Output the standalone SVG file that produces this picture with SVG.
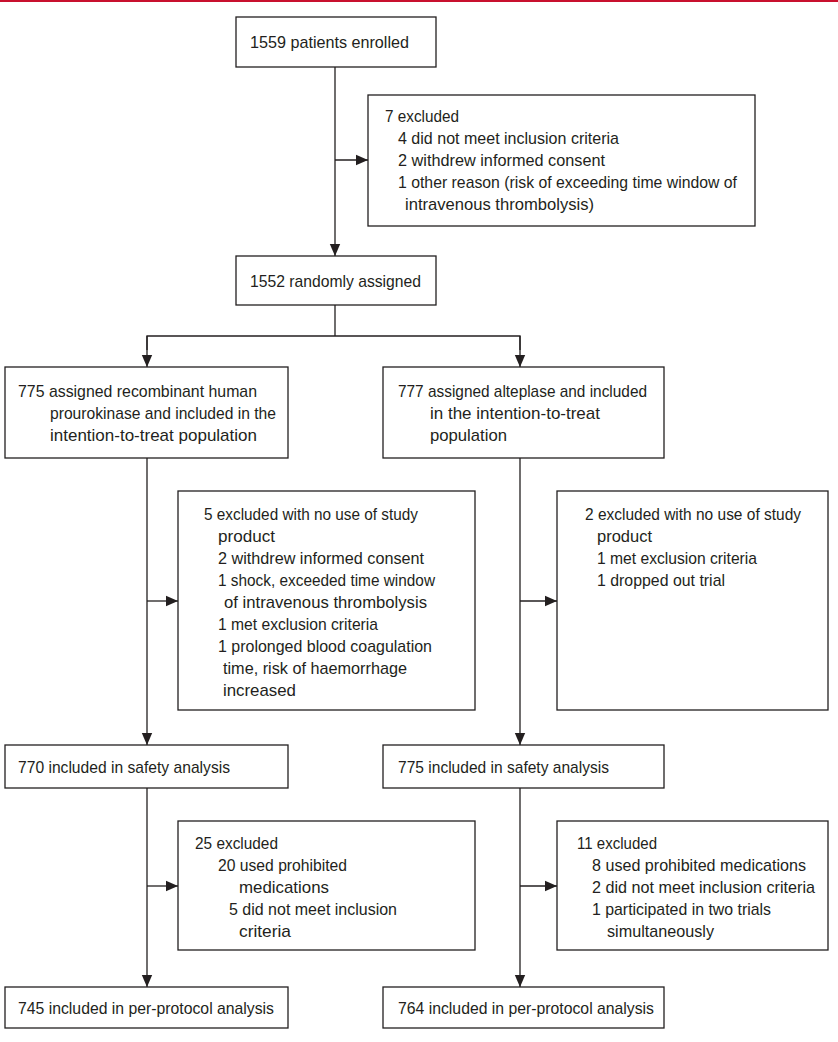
<svg xmlns="http://www.w3.org/2000/svg" width="838" height="1042" viewBox="0 0 838 1042">
<style>
.box{fill:#fff;stroke:#231f20;stroke-width:1.3}
.t{font-family:"Liberation Sans","DejaVu Sans",sans-serif;font-size:16.2px;fill:#231f20}
.c{fill:none;stroke:#231f20;stroke-width:1.3}
</style>
<defs>
<marker id="ah" viewBox="0 0 12 12" refX="12" refY="6" markerWidth="12" markerHeight="12" markerUnits="userSpaceOnUse" orient="auto">
<path d="M0,0.8 L12,6 L0,11.2 Z" fill="#231f20"/>
</marker>
</defs>
<rect x="0" y="0" width="838" height="2" fill="#c8102e"/>
<g id="connectors">
<line class="c" x1="335" y1="67" x2="335" y2="256" marker-end="url(#ah)"/>
<line class="c" x1="335" y1="160" x2="368" y2="160" marker-end="url(#ah)"/>
<polyline class="c" points="335,305 335,336"/>
<polyline class="c" points="147,350 147,336 520,336 520,350"/>
<line class="c" x1="147" y1="336" x2="147" y2="367" marker-end="url(#ah)"/>
<line class="c" x1="520" y1="336" x2="520" y2="367" marker-end="url(#ah)"/>
<line class="c" x1="147" y1="458" x2="147" y2="745" marker-end="url(#ah)"/>
<line class="c" x1="147" y1="601" x2="178" y2="601" marker-end="url(#ah)"/>
<line class="c" x1="520" y1="458" x2="520" y2="745" marker-end="url(#ah)"/>
<line class="c" x1="520" y1="601" x2="557" y2="601" marker-end="url(#ah)"/>
<line class="c" x1="147" y1="788" x2="147" y2="987" marker-end="url(#ah)"/>
<line class="c" x1="147" y1="886" x2="178" y2="886" marker-end="url(#ah)"/>
<line class="c" x1="520" y1="788" x2="520" y2="987" marker-end="url(#ah)"/>
<line class="c" x1="520" y1="886" x2="557" y2="886" marker-end="url(#ah)"/>
</g>
<g id="enrolled">
<rect class="box" x="236" y="17" width="200" height="50"/>
<text class="t" x="250" y="48" textLength="159" lengthAdjust="spacingAndGlyphs">1559 patients enrolled</text>
</g>
<g id="excluded7">
<rect class="box" x="368" y="95" width="387" height="131"/>
<text class="t" x="385" y="122" textLength="74" lengthAdjust="spacingAndGlyphs">7 excluded</text>
<text class="t" x="398" y="144" textLength="221" lengthAdjust="spacingAndGlyphs">4 did not meet inclusion criteria</text>
<text class="t" x="398" y="166" textLength="207" lengthAdjust="spacingAndGlyphs">2 withdrew informed consent</text>
<text class="t" x="398" y="188" textLength="339" lengthAdjust="spacingAndGlyphs">1 other reason (risk of exceeding time window of</text>
<text class="t" x="405" y="210" textLength="189" lengthAdjust="spacingAndGlyphs">intravenous thrombolysis)</text>
</g>
<g id="randomised">
<rect class="box" x="236" y="256" width="200" height="49"/>
<text class="t" x="250" y="287" textLength="171" lengthAdjust="spacingAndGlyphs">1552 randomly assigned</text>
</g>
<g id="prouk">
<rect class="box" x="5" y="367" width="283" height="91"/>
<text class="t" x="18" y="397" textLength="239" lengthAdjust="spacingAndGlyphs">775 assigned recombinant human</text>
<text class="t" x="50" y="419" textLength="226" lengthAdjust="spacingAndGlyphs">prourokinase and included in the</text>
<text class="t" x="50" y="441" textLength="207" lengthAdjust="spacingAndGlyphs">intention-to-treat population</text>
</g>
<g id="alteplase">
<rect class="box" x="383" y="367" width="281" height="91"/>
<text class="t" x="398" y="397" textLength="249" lengthAdjust="spacingAndGlyphs">777 assigned alteplase and included</text>
<text class="t" x="430" y="419" textLength="170" lengthAdjust="spacingAndGlyphs">in the intention-to-treat</text>
<text class="t" x="430" y="441" textLength="77" lengthAdjust="spacingAndGlyphs">population</text>
</g>
<g id="excluded5">
<rect class="box" x="178" y="491" width="297" height="219"/>
<text class="t" x="204" y="520" textLength="214" lengthAdjust="spacingAndGlyphs">5 excluded with no use of study</text>
<text class="t" x="218" y="542" textLength="57" lengthAdjust="spacingAndGlyphs">product</text>
<text class="t" x="218" y="564" textLength="206" lengthAdjust="spacingAndGlyphs">2 withdrew informed consent</text>
<text class="t" x="218" y="586" textLength="217" lengthAdjust="spacingAndGlyphs">1 shock, exceeded time window</text>
<text class="t" x="224" y="608" textLength="203" lengthAdjust="spacingAndGlyphs">of intravenous thrombolysis</text>
<text class="t" x="218" y="630" textLength="160" lengthAdjust="spacingAndGlyphs">1 met exclusion criteria</text>
<text class="t" x="218" y="652" textLength="214" lengthAdjust="spacingAndGlyphs">1 prolonged blood coagulation</text>
<text class="t" x="223" y="674" textLength="184" lengthAdjust="spacingAndGlyphs">time, risk of haemorrhage</text>
<text class="t" x="223" y="696" textLength="73" lengthAdjust="spacingAndGlyphs">increased</text>
</g>
<g id="excluded2">
<rect class="box" x="557" y="491" width="271" height="219"/>
<text class="t" x="585" y="520" textLength="216" lengthAdjust="spacingAndGlyphs">2 excluded with no use of study</text>
<text class="t" x="597" y="542" textLength="55" lengthAdjust="spacingAndGlyphs">product</text>
<text class="t" x="597" y="564" textLength="160" lengthAdjust="spacingAndGlyphs">1 met exclusion criteria</text>
<text class="t" x="597" y="586" textLength="128" lengthAdjust="spacingAndGlyphs">1 dropped out trial</text>
</g>
<g id="safety770">
<rect class="box" x="5" y="745" width="283" height="43"/>
<text class="t" x="18" y="773" textLength="212" lengthAdjust="spacingAndGlyphs">770 included in safety analysis</text>
</g>
<g id="safety775">
<rect class="box" x="383" y="745" width="281" height="43"/>
<text class="t" x="398" y="773" textLength="211" lengthAdjust="spacingAndGlyphs">775 included in safety analysis</text>
</g>
<g id="excluded25">
<rect class="box" x="178" y="821" width="297" height="129"/>
<text class="t" x="195" y="849" textLength="83" lengthAdjust="spacingAndGlyphs">25 excluded</text>
<text class="t" x="218" y="871" textLength="129" lengthAdjust="spacingAndGlyphs">20 used prohibited</text>
<text class="t" x="239" y="893" textLength="90" lengthAdjust="spacingAndGlyphs">medications</text>
<text class="t" x="229" y="915" textLength="168" lengthAdjust="spacingAndGlyphs">5 did not meet inclusion</text>
<text class="t" x="239" y="937" textLength="52" lengthAdjust="spacingAndGlyphs">criteria</text>
</g>
<g id="excluded11">
<rect class="box" x="557" y="821" width="271" height="129"/>
<text class="t" x="577" y="849" textLength="80" lengthAdjust="spacingAndGlyphs">11 excluded</text>
<text class="t" x="592" y="871" textLength="214" lengthAdjust="spacingAndGlyphs">8 used prohibited medications</text>
<text class="t" x="592" y="893" textLength="223" lengthAdjust="spacingAndGlyphs">2 did not meet inclusion criteria</text>
<text class="t" x="592" y="915" textLength="179" lengthAdjust="spacingAndGlyphs">1 participated in two trials</text>
<text class="t" x="607" y="937" textLength="107" lengthAdjust="spacingAndGlyphs">simultaneously</text>
</g>
<g id="pp745">
<rect class="box" x="5" y="987" width="283" height="41"/>
<text class="t" x="18" y="1014" textLength="256" lengthAdjust="spacingAndGlyphs">745 included in per-protocol analysis</text>
</g>
<g id="pp764">
<rect class="box" x="383" y="987" width="281" height="41"/>
<text class="t" x="398" y="1014" textLength="256" lengthAdjust="spacingAndGlyphs">764 included in per-protocol analysis</text>
</g>
</svg>
